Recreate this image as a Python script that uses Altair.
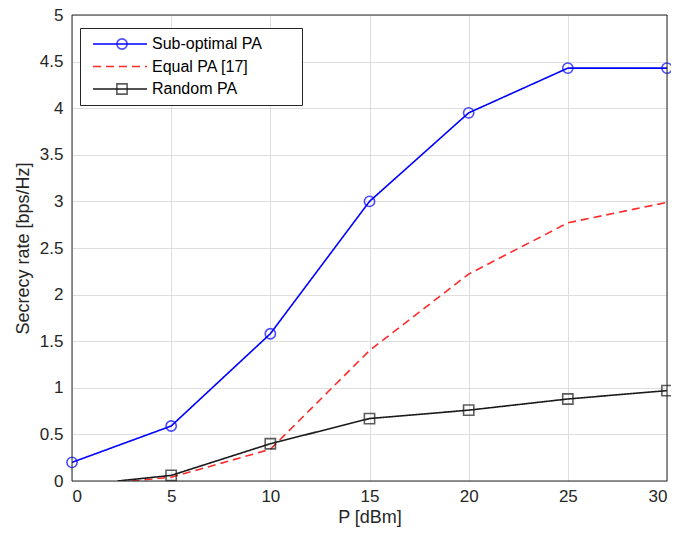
import altair as alt
import pandas as pd

# ---- data ----
series_names = ["Sub-optimal PA", "Equal PA [17]", "Random PA"]

sub_p = [0, 5, 10, 15, 20, 25, 30]
sub_rate = [0.20, 0.59, 1.58, 3.00, 3.95, 4.43, 4.43]

eq_p = [3.0, 5, 10, 15, 20, 25, 30]
eq_rate = [0.0, 0.04, 0.34, 1.40, 2.22, 2.77, 2.99]

rnd_p = [2.3, 5, 10, 15, 20, 25, 30]
rnd_rate = [0.0, 0.06, 0.40, 0.67, 0.76, 0.88, 0.97]

x_ticks = [0, 5, 10, 15, 20, 25, 30]
y_ticks = [0, 0.5, 1, 1.5, 2, 2.5, 3, 3.5, 4, 4.5, 5]

colors = ["#0000ff", "#ff2a2a", "#1a1a1a"]
dashes = [[1, 0], [8, 5], [1, 0]]

# marker legend (overlaid on the line legend); an extra hidden key keeps it separate
marker_keys = series_names + ["~"]
marker_colors = ["#0000ff", "transparent", "#1a1a1a", "transparent"]
marker_shapes = ["circle", "circle", "square", "circle"]

rows = []
for name, ps, rs in [
    (series_names[0], sub_p, sub_rate),
    (series_names[1], eq_p, eq_rate),
    (series_names[2], rnd_p, rnd_rate),
]:
    for p, r in zip(ps, rs):
        rows.append({"series": name, "P": p, "rate": r})
df = pd.DataFrame(rows)

mrows = [{"mseries": series_names[0], "P": p, "rate": r} for p, r in zip(sub_p, sub_rate)]
mrows += [{"mseries": series_names[2], "P": p, "rate": r} for p, r in zip(rnd_p[1:], rnd_rate[1:])]
mdf = pd.DataFrame(mrows)

FONT = "Liberation Sans"
TXT = "#262626"
W, H = 595, 466

xs = alt.Scale(domain=[0, 30], nice=False)
ys = alt.Scale(domain=[0, 5], nice=False)

x_enc = alt.X(
    "P:Q",
    scale=xs,
    axis=alt.Axis(
        values=x_ticks, title="P [dBm]", grid=True, gridColor="#dedede",
        domain=False, ticks=False, labelFontSize=17, labelColor=TXT,
        labelFont=FONT, labelPadding=7, titleFont=FONT, titleFontSize=18,
        titleFontWeight="normal", titleColor=TXT, titlePadding=4,
    ),
)
y_enc = alt.Y(
    "rate:Q",
    scale=ys,
    axis=alt.Axis(
        values=y_ticks, format="~g", title="Secrecy rate [bps/Hz]", grid=True,
        gridColor="#dedede", domain=False, ticks=False, labelFontSize=17,
        labelColor=TXT, labelFont=FONT, labelPadding=9, titleFont=FONT,
        titleFontSize=18, titleFontWeight="normal", titleColor=TXT,
        titlePadding=7,
    ),
)

lines = alt.Chart(df).mark_line(strokeWidth=1.6, clip=True).encode(
    x=x_enc,
    y=y_enc,
    color=alt.Color(
        "series:N",
        scale=alt.Scale(domain=series_names, range=colors),
        legend=alt.Legend(
            title=".", titleColor="transparent", titleOrient="right",
            titlePadding=28, orient="none", legendX=8, legendY=13,
            symbolType="stroke", symbolSize=2916, symbolOffset=4,
            labelOffset=4, strokeColor=TXT, fillColor="white",
        ),
    ),
    strokeDash=alt.StrokeDash(
        "series:N", scale=alt.Scale(domain=series_names, range=dashes)
    ),
)

marker_legend = alt.Legend(
    title=None, orient="none", legendX=8, legendY=13, symbolSize=105,
    symbolOffset=26, labelColor="transparent", strokeColor="transparent",
    fillColor="transparent",
)

markers = alt.Chart(mdf).mark_point(
    size=105, filled=False, strokeWidth=1.6
).encode(
    x="P:Q",
    y="rate:Q",
    stroke=alt.Stroke(
        "mseries:N",
        scale=alt.Scale(domain=marker_keys, range=marker_colors),
        legend=marker_legend,
    ),
    shape=alt.Shape(
        "mseries:N",
        scale=alt.Scale(domain=marker_keys, range=marker_shapes),
        legend=marker_legend,
    ),
)

frame = alt.Chart(pd.DataFrame({"frame": [0]})).mark_rect(
    fill="transparent", stroke=TXT, strokeWidth=1
).encode(
    x=alt.value(0), x2=alt.value(W), y=alt.value(0), y2=alt.value(H)
)

chart = (
    alt.layer(lines, markers, frame)
    .properties(
        width=W,
        height=H,
        autosize=alt.AutoSizeParams(type="none"),
        padding={"left": 64, "top": 7, "right": 4, "bottom": 52},
        background="white",
    )
    .configure_view(stroke=TXT, strokeWidth=1)
    .configure_legend(
        padding=8, labelFont=FONT, labelFontSize=16, labelColor="black",
        symbolStrokeWidth=1.6, rowPadding=6.5, clipHeight=16,
        cornerRadius=0,
    )
)

chart.save("out.html", embed_options={"renderer": "svg", "actions": False})
